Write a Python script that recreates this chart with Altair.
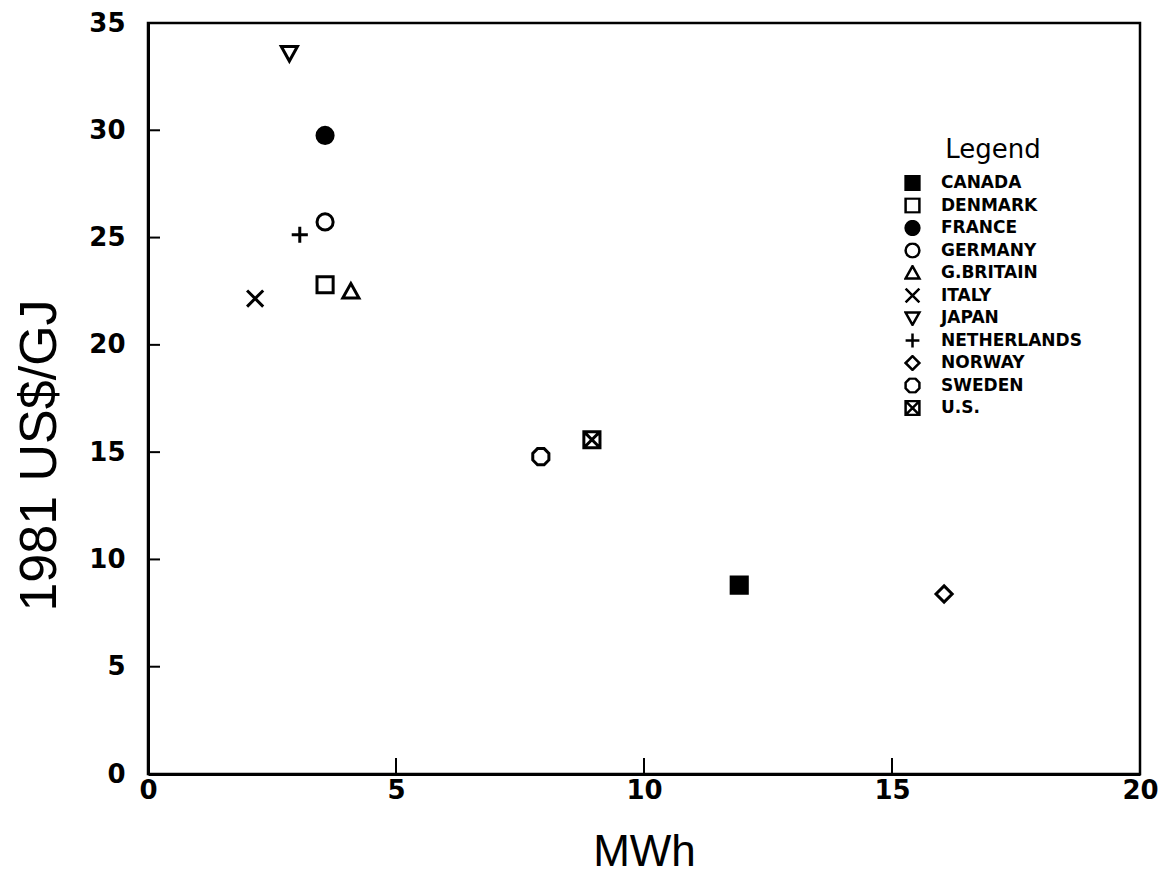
import altair as alt
import pandas as pd

# ---- data ----
countries = ["CANADA", "DENMARK", "FRANCE", "GERMANY", "G.BRITAIN", "ITALY",
             "JAPAN", "NETHERLANDS", "NORWAY", "SWEDEN", "U.S."]
mwh = [11.92, 3.57, 3.57, 3.57, 4.09, 2.16, 2.85, 3.06, 16.05, 7.92, 8.95]
price = [8.8, 22.8, 29.76, 25.73, 22.48, 22.16, 33.6, 25.13, 8.39, 14.79, 15.58]

x_ticks = [0, 5, 10, 15, 20]
y_ticks = [0, 5, 10, 15, 20, 25, 30, 35]
x_inner_ticks = [5, 10, 15]
y_inner_ticks = [5, 10, 15, 20, 25, 30]

# marker glyphs (normalised SVG paths) and fills, one per country
shapes = [
    "M-1,-1H1V1H-1Z",                                   # filled square
    "M-1,-1H1V1H-1Z",                                   # open square
    "circle",                                           # filled circle
    "circle",                                           # open circle
    "M0,-1L1,0.8L-1,0.8Z",                              # triangle up
    "M-1,-1L1,1M-1,1L1,-1",                             # x
    "M-1,-0.8L1,-0.8L0,1Z",                             # triangle down
    "M-1,0H1M0,-1V1",                                   # plus
    "M0,-1L1,0L0,1L-1,0Z",                              # diamond
    "M-0.41,-1H0.41L1,-0.41V0.41L0.41,1H-0.41L-1,0.41V-0.41Z",  # octagon
    "M-1,-1H1V1H-1ZM-1,-1L1,1M-1,1L1,-1",               # boxed x
]
fills = ["black", "white", "black", "white", "white", "white",
         "white", "white", "white", "white", "white"]
strokes = ["black"] * len(countries)

df = pd.DataFrame({"country": countries, "mwh": mwh, "price": price})

xscale = alt.Scale(domain=[0, 20], nice=False, zero=False)
yscale = alt.Scale(domain=[0, 35], nice=False, zero=False)

W, H = 992, 751

xaxis = alt.Axis(
    values=x_ticks, ticks=False, tickSize=0, grid=False, domain=True,
    domainColor="black", domainWidth=3, labelFlush=False,
    labelFont="DejaVu Sans", labelFontSize=26, labelFontWeight="bold",
    labelColor="black", labelPadding=3,
    title="MWh", titleFont="Liberation Sans", titleFontSize=44,
    titleFontWeight="normal", titleColor="black",
    titleX=W / 2, titleY=78, titleAlign="center", titleBaseline="middle")
yaxis = alt.Axis(
    values=y_ticks, ticks=False, tickSize=0, grid=False, domain=True,
    domainColor="black", domainWidth=3, labelFlush=False,
    labelFont="DejaVu Sans", labelFontSize=26, labelFontWeight="bold",
    labelColor="black", labelPadding=23,
    title="1981 US$/GJ", titleFont="Liberation Sans", titleFontSize=52,
    titleFontWeight="normal", titleColor="black", titleAngle=270,
    titleX=-109, titleY=432, titleAlign="center", titleBaseline="middle")

legend = alt.Legend(
    title="Legend", orient="none", legendX=756, legendY=114, padding=0,
    titleFont="DejaVu Sans", titleFontSize=26, titleFontWeight="normal",
    titleColor="black", titleAnchor="middle", titlePadding=12,
    labelFont="DejaVu Sans", labelFontSize=17, labelFontWeight="bold",
    labelColor="black", labelOffset=20, symbolSize=190, symbolStrokeWidth=2.5,
    symbolStrokeColor="black", rowPadding=5.5, clipHeight=16,
)

points = alt.Chart(df).mark_point(
    strokeWidth=3, opacity=1, fillOpacity=1, strokeOpacity=1, size=260
).encode(
    x=alt.X("mwh:Q", scale=xscale, axis=xaxis),
    y=alt.Y("price:Q", scale=yscale, axis=yaxis),
    shape=alt.Shape("country:N", scale=alt.Scale(domain=countries, range=shapes),
                    legend=legend),
    fill=alt.Fill("country:N", scale=alt.Scale(domain=countries, range=fills),
                  legend=legend),
    stroke=alt.Stroke("country:N", scale=alt.Scale(domain=countries, range=strokes),
                      legend=legend),
)

xt = alt.Chart(pd.DataFrame({"v": x_inner_ticks})).mark_rule(
    color="black", strokeWidth=2
).encode(
    x=alt.X("v:Q", scale=xscale, axis=xaxis),
    y=alt.value(H), y2=alt.value(H - 16),
)

yt = alt.Chart(pd.DataFrame({"v": y_inner_ticks})).mark_rule(
    color="black", strokeWidth=2
).encode(
    y=alt.Y("v:Q", scale=yscale, axis=yaxis),
    x=alt.value(0), x2=alt.value(12),
)

chart = alt.layer(points, xt, yt).properties(
    width=W, height=H,
    autosize=alt.AutoSizeParams(type="none"),
    padding={"left": 140, "top": 15, "right": 24, "bottom": 100},
    background="white",
).configure_view(stroke="black", strokeWidth=2.5)

chart.save("out.html", embed_options={"renderer": "svg", "actions": False})
